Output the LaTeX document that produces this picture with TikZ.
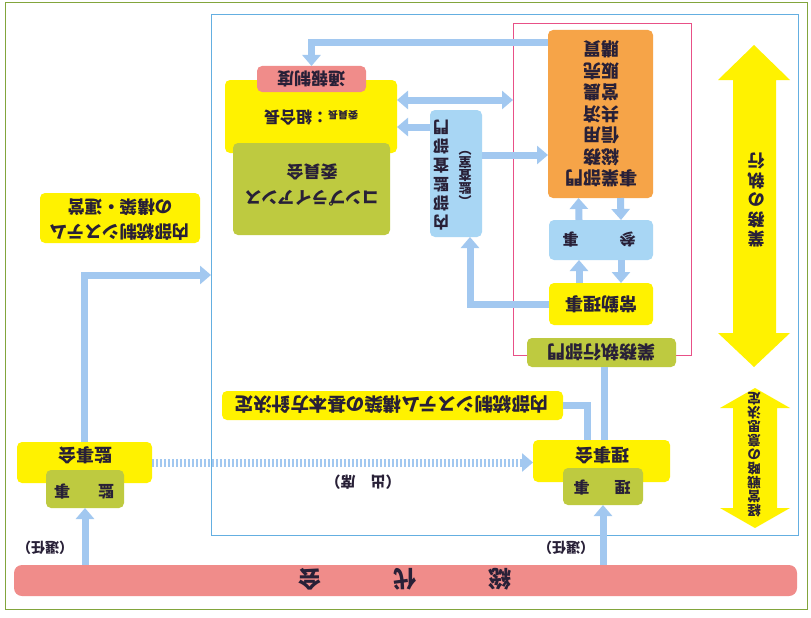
\documentclass[tikz,border=0pt]{standalone}
\usepackage{fontspec}
\setmainfont{Noto Sans CJK JP}
\usetikzlibrary{arrows.meta}
\definecolor{cyel}{RGB}{255,242,0}
\definecolor{colive}{RGB}{190,202,64}
\definecolor{corange}{RGB}{246,164,72}
\definecolor{cblue}{RGB}{168,214,244}
\definecolor{cpink}{RGB}{240,140,138}
\definecolor{cconn}{RGB}{162,200,240}
\definecolor{ctext}{RGB}{40,32,55}
\definecolor{cframe}{RGB}{100,175,225}
\definecolor{cpframe}{RGB}{232,80,135}
\definecolor{couter}{RGB}{130,165,60}
\newcommand{\fs}[2]{\fontsize{#1}{#2}\selectfont\bfseries}
\begin{document}
\begin{tikzpicture}[x=1pt,y=-1pt,
  box/.style={rounded corners=5pt,inner sep=0pt,outer sep=0pt},
  ybox/.style={box,fill=cyel},
  obox/.style={box,fill=colive},
  bbox/.style={box,fill=cblue},
  rbox/.style={box,fill=corange},
  pbox/.style={box,fill=cpink},
  lbl/.style={rotate=180,text=ctext,inner sep=0pt,align=center},
  conn/.style={draw=cconn,line width=7pt},
  arr/.style={conn,-{Triangle[width=18pt,length=11pt]}},
  darr/.style={conn,{Triangle[width=18pt,length=11pt]}-{Triangle[width=18pt,length=11pt]}},
  dotarr/.style={arr,dash pattern=on 2pt off 2pt},
  frame/.style={inner sep=0pt,outer sep=0pt}
]
\fill[white] (0,0) rectangle (811,618);
\useasboundingbox (0,0) rectangle (811,618);
% frames
\node[frame,draw=couter,line width=1pt,minimum width=802pt,minimum height=606pt] (outer) at (406,306) {};
\node[frame,draw=cframe,line width=0.9pt,minimum width=587pt,minimum height=521pt] (bframe) at (504.5,274.5) {};
\node[frame,draw=cpframe,line width=0.8pt,minimum width=178pt,minimum height=332pt] (pframe) at (602,189) {};
% big yellow arrows
\fill[cyel] (754,45) -- (790,80) -- (776,80) -- (776,333) -- (790,333) -- (754,367) -- (718,333) -- (733,333) -- (733,80) -- (718,80) -- cycle;
\fill[cyel] (755,388) -- (790,408) -- (777,408) -- (777,508) -- (790,508) -- (755,528) -- (720,508) -- (733,508) -- (733,408) -- (720,408) -- cycle;
% boxes
\node[pbox,rounded corners=8pt,minimum width=783pt,minimum height=31pt] (soudai) at (405.5,580.5) {};
\node[ybox,minimum width=135pt,minimum height=41pt] (kanjikai) at (84.5,462.5) {};
\node[obox,minimum width=78pt,minimum height=38pt] (kanji) at (85,489) {};
\node[ybox,minimum width=137pt,minimum height=42pt] (rijikai) at (601.5,461) {};
\node[obox,minimum width=80pt,minimum height=37pt] (riji) at (603,486.5) {};
\node[ybox,minimum width=341pt,minimum height=29pt] (houshin) at (392.5,405.5) {};
\node[obox,minimum width=149pt,minimum height=29pt] (gyomu) at (601.5,352.5) {};
\node[ybox,minimum width=104pt,minimum height=42pt] (joukin) at (601,304) {};
\node[bbox,minimum width=104pt,minimum height=40pt] (sanji) at (601,240) {};
\node[rbox,minimum width=105pt,minimum height=168pt] (jigyou) at (600.5,114) {};
\node[bbox,minimum width=52pt,minimum height=127pt] (kansa) at (456,173.5) {};
\node[ybox,minimum width=172pt,minimum height=73pt] (iinchou) at (311,116.5) {};
\node[pbox,minimum width=109pt,minimum height=26pt] (tsuho) at (311.5,79) {};
\node[obox,minimum width=157pt,minimum height=92pt] (compl) at (311.5,189) {};
\node[ybox,minimum width=160pt,minimum height=50pt] (kouchiku) at (120,218) {};
% helper coordinates
\coordinate (y43) at (0,43);
\coordinate (y100) at (0,100);
\coordinate (y127) at (0,127);
\coordinate (y155) at (0,155);
\coordinate (y275) at (0,275);
% connectors
\draw[arr] (soudai.north -| kanji) -- (kanji.south);
\draw[arr] (soudai.north -| riji) -- (riji.south);
\draw[arr] (kanjikai.north) |- (bframe.west |- y275);
\draw[dotarr,line width=8pt] (kanjikai.east) -- (kanjikai.east -| rijikai.west);
\draw[conn] ([xshift=3pt]rijikai.north) -- ([xshift=3pt]rijikai.north |- gyomu.south);
\draw[conn] ([xshift=-14pt]rijikai.north) |- (houshin.east);
\draw[arr] ([xshift=-22pt]joukin.north) -- ([xshift=-22pt]sanji.south);
\draw[arr] ([xshift=20pt]sanji.south) -- ([xshift=20pt]joukin.north);
\draw[arr] ([xshift=-22pt]sanji.north) -- ([xshift=-22pt]jigyou.south);
\draw[arr] ([xshift=20pt]jigyou.south) -- ([xshift=20pt]sanji.north);
\draw[arr] (joukin.west) -| ([xshift=14pt]kansa.south);
\draw[arr] (kansa.east |- y155) -- (jigyou.west |- y155);
\draw[arr] (kansa.west |- y127) -- (iinchou.east |- y127);
\draw[darr] (iinchou.east |- y100) -- (pframe.west |- y100);
\draw[arr] (jigyou.west |- y43) -| (tsuho.north);
% labels
\node[lbl,font=\fs{23}{23}] (tsoudai) at (405,579) {総\hspace{72pt}代\hspace{72pt}会};
\node[lbl,font=\fs{14}{14}] (tsen1) at (45,548) {（選任）};
\node[lbl,font=\fs{14}{14}] (tsen2) at (566,548) {（選任）};
\node[lbl,font=\fs{18}{18}] (tkanjikai) at (85,455) {監事会};
\node[lbl,font=\fs{16}{16}] (tkanji) at (84,492) {監\hspace{28pt}事};
\node[lbl,font=\fs{18}{18}] (trijikai) at (602,455) {理事会};
\node[lbl,font=\fs{16}{16}] (triji) at (602,488) {理\hspace{25pt}事};
\node[lbl,font=\fs{15}{15}] (tshusseki) at (363,482) {（出　席）};
\node[lbl,font=\fs{18.5}{18.5}] (thoushin) at (392,405) {内部統制システム構築の基本方針決定};
\node[lbl,font=\fs{18}{18}] (tgyomu) at (601,352) {業務執行部門};
\node[lbl,font=\fs{18}{18}] (tjoukin) at (601,304) {常勤理事};
\node[lbl,font=\fs{16}{16}] (tsanji) at (599,240) {参\hspace{41pt}事};
\node[lbl,font=\fs{18}{21.5}] (tjigyou) at (601,114) {事業部門\\総務\\信用\\共済\\営農\\販売\\購買};
\node[lbl,font=\fs{16}{19}] (tkansa1) at (441,175) {内\\部\\監\\査\\部\\門};
\node[lbl,font=\fs{13}{13}] (tkansa2) at (465,172) {︵\\監\\査\\室\\︶};
\node[lbl,font=\fs{17}{19.5}] (tshikkou) at (756,200) {業\\務\\の\\執\\行};
\node[lbl,font=\fs{13.5}{14}] (tkeiei) at (754,455) {経\\営\\戦\\略\\の\\意\\思\\決\\定};
\node[lbl,font=\fs{17}{17}] (ttsuho) at (311,79) {通報制度};
\node[lbl,font=\fs{16}{16}] (tiinchou) at (311,118) {{\fs{10}{10}委員長}：組合長};
\node[lbl,font=\fs{17}{26}] (tcompl) at (312,185) {コンプライアンス\\委員会};
\node[lbl,font=\fs{17.5}{25}] (tkouchiku) at (120,220) {内部統制システム\\の構築・運営};
\end{tikzpicture}
\end{document}
